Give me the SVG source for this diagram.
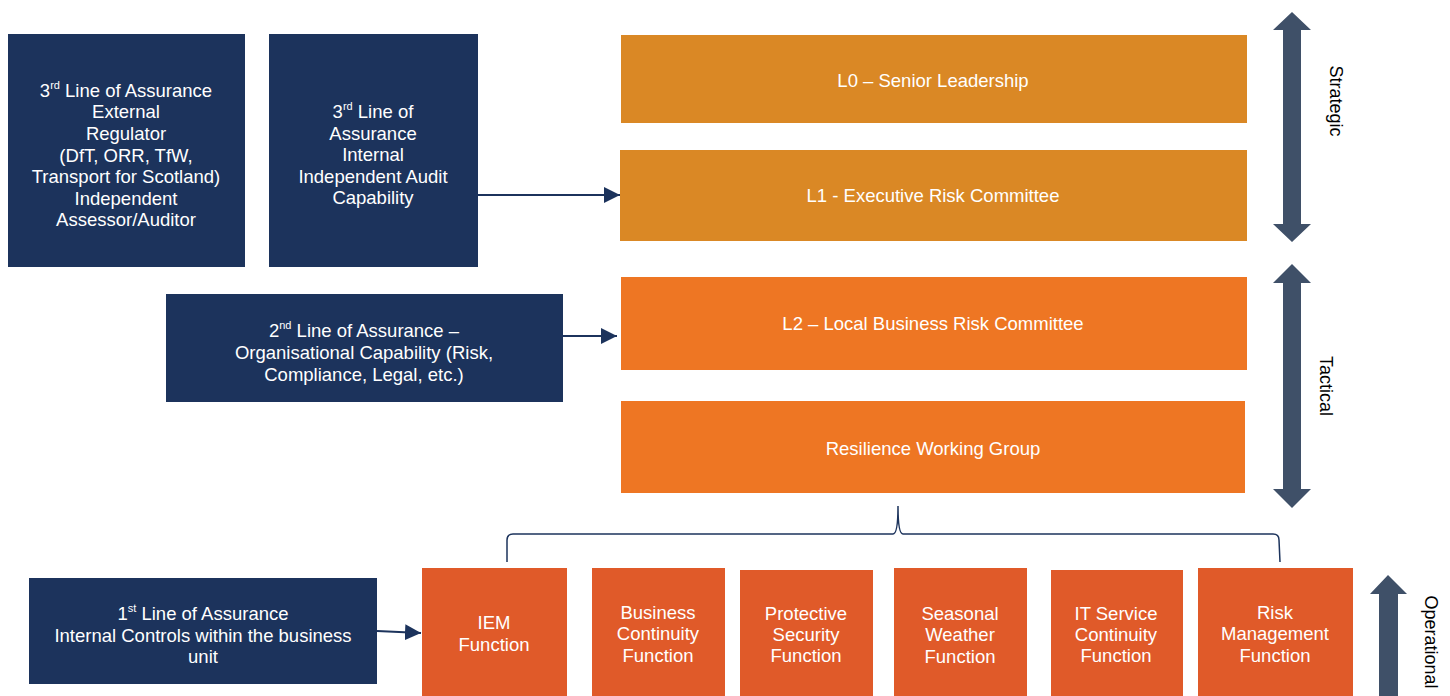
<svg xmlns="http://www.w3.org/2000/svg" width="1450" height="696" viewBox="0 0 1450 696">
<defs>
<style>
.t{font-family:"Liberation Sans",Arial,sans-serif;font-size:18.5px;fill:#fff;text-anchor:middle}
.s{font-size:11px}
.lbl{font-family:"Liberation Sans",Arial,sans-serif;font-size:18px;fill:#000;text-anchor:middle}
.navy{fill:#1C335C}
.gold{fill:#DA8825}
.org{fill:#EE7623}
.red{fill:#E05A29}
.dbl{fill:#3F5068}
.con{stroke:#1C335C;stroke-width:2;fill:none}
</style>
<marker id="ah2" viewBox="0 0 10 10" refX="10" refY="5" markerWidth="16" markerHeight="16" markerUnits="userSpaceOnUse" orient="auto"><path d="M0,0 L10,5 L0,10 z" fill="#1C335C"/></marker>
</defs>

<g id="ext3">
<rect class="navy" x="8" y="34" width="237" height="233"/>
<text class="t" x="126" y="97">3<tspan class="s" dy="-8">rd</tspan><tspan dy="8"> Line of Assurance</tspan></text>
<text class="t" x="126" y="118">External</text>
<text class="t" x="126" y="140">Regulator</text>
<text class="t" x="126" y="162">(DfT, ORR, TfW,</text>
<text class="t" x="126" y="183">Transport for Scotland)</text>
<text class="t" x="126" y="205">Independent</text>
<text class="t" x="126" y="226">Assessor/Auditor</text>
</g>

<g id="int3">
<rect class="navy" x="269" y="34" width="209" height="233"/>
<text class="t" x="373" y="118">3<tspan class="s" dy="-8">rd</tspan><tspan dy="8"> Line of</tspan></text>
<text class="t" x="373" y="140">Assurance</text>
<text class="t" x="373" y="161">Internal</text>
<text class="t" x="373" y="183">Independent Audit</text>
<text class="t" x="373" y="204">Capability</text>
</g>

<g id="line2">
<rect class="navy" x="166" y="294" width="397" height="108"/>
<text class="t" x="364" y="337">2<tspan class="s" dy="-8">nd</tspan><tspan dy="8"> Line of Assurance –</tspan></text>
<text class="t" x="364" y="359">Organisational Capability (Risk,</text>
<text class="t" x="364" y="381">Compliance, Legal, etc.)</text>
</g>

<g id="line1">
<rect class="navy" x="29" y="578" width="348" height="106"/>
<text class="t" x="203" y="620">1<tspan class="s" dy="-8">st</tspan><tspan dy="8"> Line of Assurance</tspan></text>
<text class="t" x="203" y="642">Internal Controls within the business</text>
<text class="t" x="203" y="663">unit</text>
</g>

<g id="l0">
<rect class="gold" x="621" y="35" width="626" height="88"/>
<text class="t" x="933" y="87">L0 – Senior Leadership</text>
</g>
<g id="l1">
<rect class="gold" x="620" y="150" width="627" height="91"/>
<text class="t" x="933" y="202">L1 - Executive Risk Committee</text>
</g>
<g id="l2">
<rect class="org" x="621" y="277" width="626" height="93"/>
<text class="t" x="933" y="330">L2 – Local Business Risk Committee</text>
</g>
<g id="rwg">
<rect class="org" x="621" y="401" width="624" height="92"/>
<text class="t" x="933" y="455">Resilience Working Group</text>
</g>

<g id="iem">
<rect class="red" x="422" y="568" width="145" height="128"/>
<text class="t" x="494" y="629">IEM</text>
<text class="t" x="494" y="651">Function</text>
</g>
<g id="bcf">
<rect class="red" x="592" y="568" width="133" height="128"/>
<text class="t" x="658" y="619">Business</text>
<text class="t" x="658" y="640">Continuity</text>
<text class="t" x="658" y="662">Function</text>
</g>
<g id="psf">
<rect class="red" x="740" y="570" width="133" height="126"/>
<text class="t" x="806" y="620">Protective</text>
<text class="t" x="806" y="641">Security</text>
<text class="t" x="806" y="662">Function</text>
</g>
<g id="swf">
<rect class="red" x="894" y="568" width="133" height="128"/>
<text class="t" x="960" y="620">Seasonal</text>
<text class="t" x="960" y="641">Weather</text>
<text class="t" x="960" y="663">Function</text>
</g>
<g id="itf">
<rect class="red" x="1051" y="570" width="132" height="126"/>
<text class="t" x="1116" y="620">IT Service</text>
<text class="t" x="1116" y="641">Continuity</text>
<text class="t" x="1116" y="662">Function</text>
</g>
<g id="rmf">
<rect class="red" x="1198" y="568" width="155" height="128"/>
<text class="t" x="1275" y="619">Risk</text>
<text class="t" x="1275" y="640">Management</text>
<text class="t" x="1275" y="662">Function</text>
</g>

<g id="strategic">
<path class="dbl" d="M1292,12 L1311,30 L1301,30 L1301,224 L1311,224 L1292,242 L1273,224 L1283,224 L1283,30 L1273,30 Z"/>
<text class="lbl" transform="translate(1330,101) rotate(90)">Strategic</text>
</g>
<g id="tactical">
<path class="dbl" d="M1292,264 L1311,283 L1301,283 L1301,489 L1311,489 L1292,508 L1273,489 L1283,489 L1283,283 L1273,283 Z"/>
<text class="lbl" transform="translate(1320,386) rotate(90)">Tactical</text>
</g>
<g id="operational">
<path class="dbl" d="M1388,575 L1407,594 L1398,594 L1398,696 L1379,696 L1379,594 L1370,594 Z"/>
<text class="lbl" transform="translate(1425,642) rotate(90)">Operational</text>
</g>

<g id="connectors">
<line class="con" x1="478" y1="195" x2="620" y2="195" marker-end="url(#ah2)"/>
<line class="con" x1="563" y1="336" x2="617" y2="336" marker-end="url(#ah2)"/>
<line class="con" x1="377" y1="631" x2="421" y2="633" marker-end="url(#ah2)"/>
<path d="M507,562 L507,540 Q507,534 513,534 L893,534 Q898,534 898,506 Q898,534 903,534 L1273,534 Q1279,534 1279,540 L1280,562" stroke="#1C335C" stroke-width="1.5" fill="none"/>
</g>
</svg>
